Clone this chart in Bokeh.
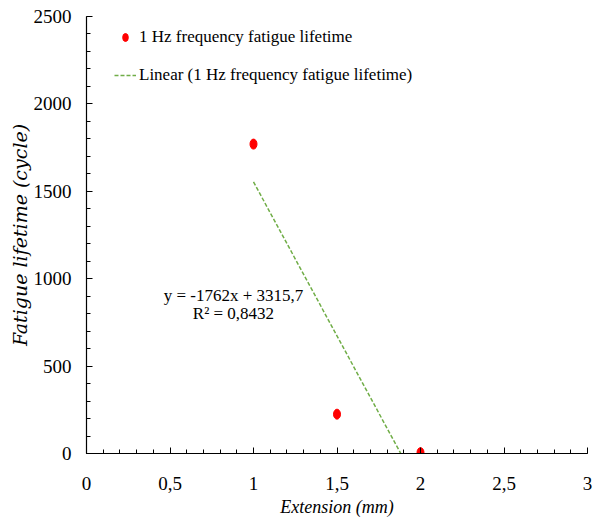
from bokeh.plotting import figure
from bokeh.models import Range1d, SingleIntervalTicker, Label, Legend, LegendItem
from bokeh.embed import file_html
from bokeh.resources import INLINE

# Measured fatigue lifetime at 1 Hz for each extension
extension_mm = [1.0, 1.5, 2.0]
fatigue_cycles = [1770, 225, 5]

# Linear trendline fitted to the series
trend_slope = -1762
trend_intercept = 3315.7
r_squared = 0.8432

# Axis tick labels (comma decimal separator)
x_ticks = [0, 0.5, 1, 1.5, 2, 2.5, 3]
x_tick_labels = ["0", "0,5", "1", "1,5", "2", "2,5", "3"]

series_name = "1 Hz frequency fatigue lifetime"
trend_name = "Linear (1 Hz frequency fatigue lifetime)"

SERIF = "Liberation Serif"
RED = "#FF0000"
GREEN = "#70AD47"

p = figure(
    width=597, height=529,
    x_range=Range1d(0, 3), y_range=Range1d(0, 2500),
    output_backend="svg", toolbar_location=None,
    min_border_left=86, min_border_right=10,
    min_border_top=16, min_border_bottom=76,
)
p.outline_line_color = None
p.grid.visible = False
p.background_fill_color = "white"
p.border_fill_color = "white"

p.xaxis.ticker = SingleIntervalTicker(interval=0.5, num_minor_ticks=5)
p.yaxis.ticker = SingleIntervalTicker(interval=500, num_minor_ticks=5)
p.xaxis.major_label_overrides = dict(zip(x_ticks, x_tick_labels))

for ax in (p.xaxis[0], p.yaxis[0]):
    ax.axis_line_color = "black"
    ax.axis_line_width = 1.2
    ax.major_tick_in = 6
    ax.major_tick_out = 0
    ax.minor_tick_in = 4
    ax.minor_tick_out = 0
    ax.major_tick_line_color = "black"
    ax.minor_tick_line_color = "black"
    ax.major_label_text_font = SERIF
    ax.major_label_text_font_size = "19px"
    ax.major_label_text_color = "black"

p.yaxis.major_label_standoff = 15
p.xaxis.major_label_standoff = 23

p.xaxis.axis_label = "Extension (mm)"
p.xaxis.axis_label_text_font = SERIF
p.xaxis.axis_label_text_font_style = "italic"
p.xaxis.axis_label_text_font_size = "18px"
p.xaxis.axis_label_text_color = "black"
p.xaxis.axis_label_standoff = 4

p.yaxis.axis_label = "Fatigue lifetime (cycle)"
p.yaxis.axis_label_text_font = "DejaVu Serif"
p.yaxis.axis_label_text_font_style = "italic"
p.yaxis.axis_label_text_font_size = "19px"
p.yaxis.axis_label_text_color = "black"
p.yaxis.axis_label_standoff = 0

# Trendline over the data's x extent; the frame clips it at y = 0
trend_x = [min(extension_mm), max(extension_mm)]
trend_y = [trend_slope * x + trend_intercept for x in trend_x]
trend = p.line(trend_x, trend_y, line_color=GREEN, line_width=1.5, line_dash="4 2")

pts = p.ellipse(
    x=extension_mm, y=fatigue_cycles, width=7, height=10,
    width_units="screen", height_units="screen",
    fill_color=RED, line_color=RED,
)

legend = Legend(
    items=[
        LegendItem(label=series_name, renderers=[pts]),
        LegendItem(label=trend_name, renderers=[trend]),
    ],
    location=(28, 368),
    border_line_color=None,
    background_fill_alpha=0,
    padding=0, margin=0, spacing=18,
    glyph_width=22, glyph_height=10, label_height=20, label_standoff=3,
    label_text_font=SERIF, label_text_font_size="17px", label_text_color="black",
)
p.add_layout(legend)

# Trendline equation and coefficient of determination
eq_text = f"y = {trend_slope}x + {str(trend_intercept).replace('.', ',')}"
r2_text = "R\u00b2 = " + str(r_squared).replace(".", ",")
for txt, ypos in ((eq_text, 905), (r2_text, 802)):
    p.add_layout(Label(
        x=0.88, y=ypos, text=txt, text_align="center", text_baseline="middle",
        text_font=SERIF, text_font_size="17px", text_color="black",
    ))

open("out.html", "w").write(file_html(p, INLINE))
